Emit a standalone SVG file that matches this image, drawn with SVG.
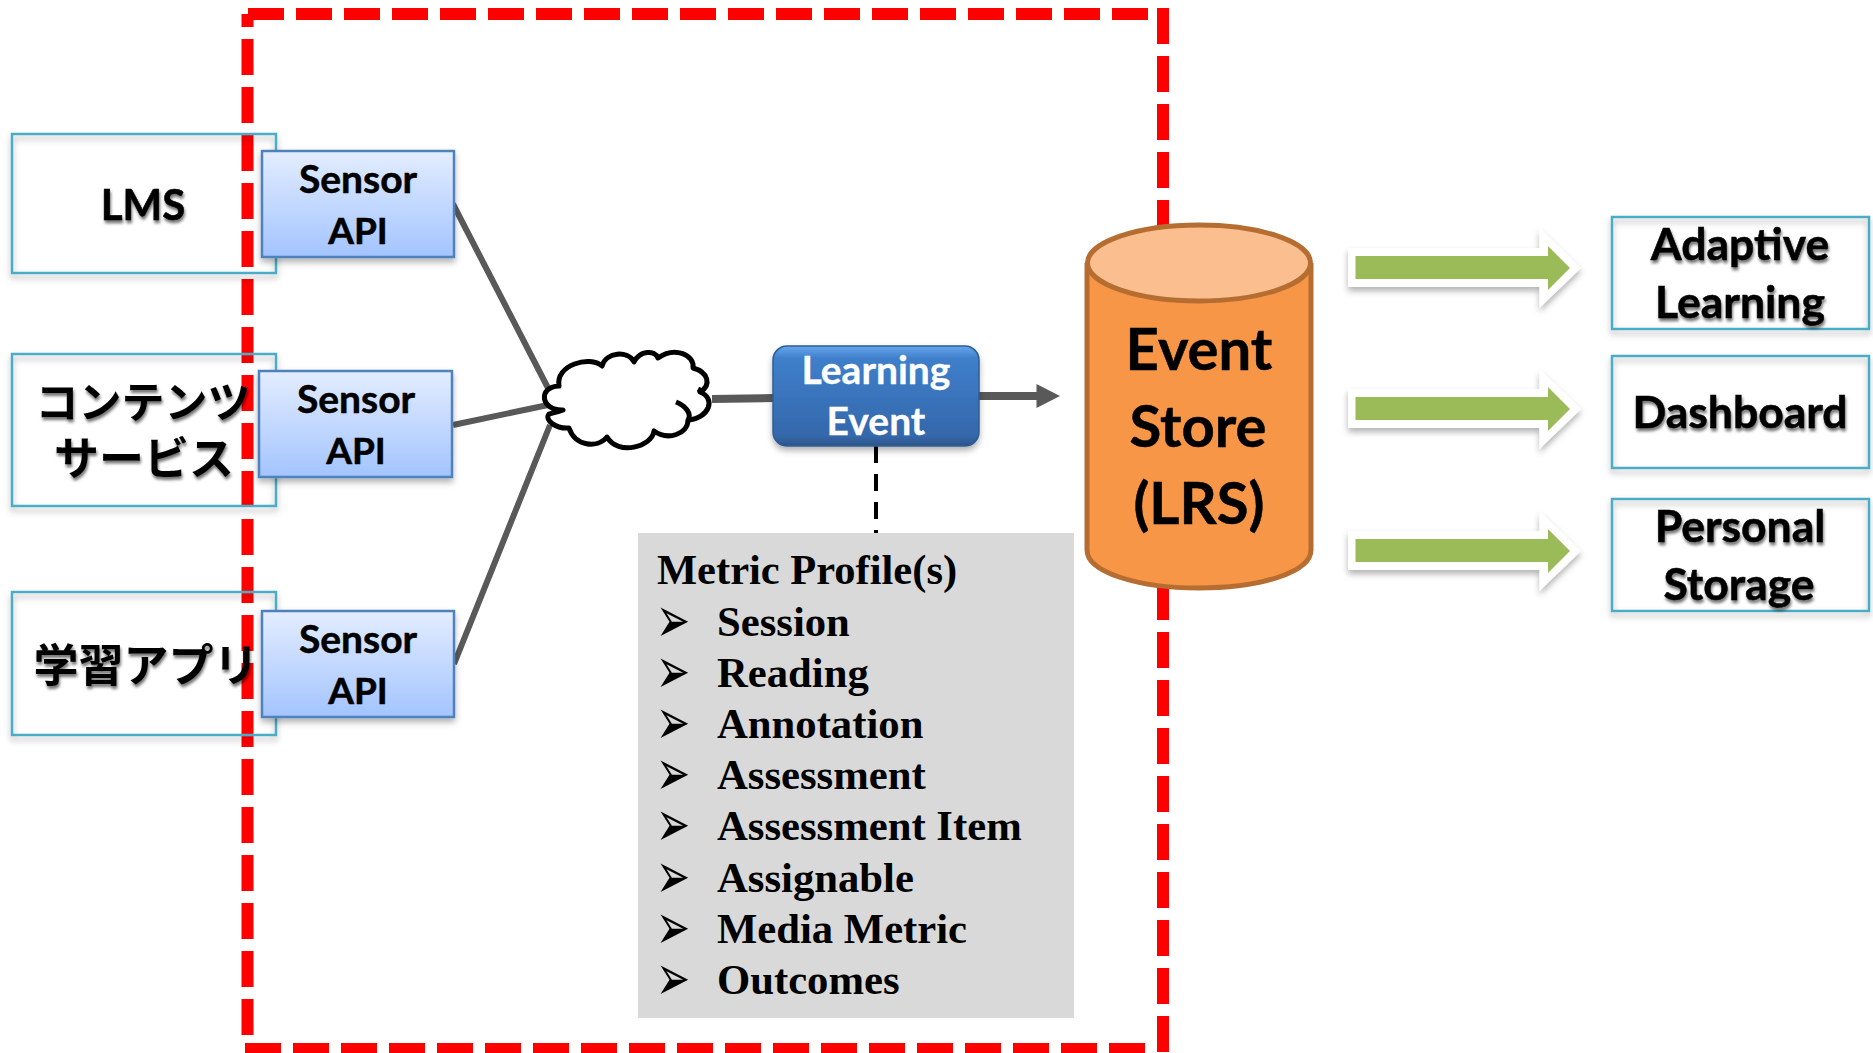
<svg xmlns="http://www.w3.org/2000/svg" xmlns:xlink="http://www.w3.org/1999/xlink" width="1873" height="1053" viewBox="0 0 1873 1053">
<style>
.c{font-family:"Lato","Open Sans","Liberation Sans",sans-serif;font-weight:700;fill:#000;text-anchor:middle;stroke:#000;stroke-width:.5}
.w{fill:#fff;stroke:#fff;stroke-width:.3}
.j{font-family:"Noto Sans CJK JP",sans-serif;font-weight:700;fill:#000;text-anchor:middle}
.m{font-family:"Liberation Serif",serif;font-weight:700;fill:#000}
.b{font-family:"DejaVu Sans",sans-serif;fill:#000;font-size:34px}
.src{fill:none;stroke:#4bacc6;stroke-width:2.5}
.sen{fill:url(#sg);stroke:#4f81bd;stroke-width:2.5}
.wa{fill:#fff}
.ga{fill:#9bbb59}
.ln{stroke:#595959;fill:none}
.red{fill:none;stroke:#f00;stroke-width:12;stroke-dasharray:36 12}
</style>
<defs>
<linearGradient id="sg" x1="0" y1="0" x2="0" y2="1"><stop offset="0" stop-color="#e3edff"/><stop offset="1" stop-color="#a3c4ff"/></linearGradient>
<linearGradient id="lg" x1="0" y1="0" x2="0" y2="1"><stop offset="0" stop-color="#66a8ee"/><stop offset=".12" stop-color="#3f7fcb"/><stop offset=".9" stop-color="#3468ab"/><stop offset="1" stop-color="#2c5586"/></linearGradient>
<filter id="ts" x="-20%" y="-20%" width="140%" height="150%"><feDropShadow dx="1" dy="3" stdDeviation="1.6" flood-color="#000" flood-opacity=".55"/></filter>
<filter id="bs" x="-10%" y="-10%" width="120%" height="125%"><feDropShadow dx="0" dy="4" stdDeviation="3" flood-color="#000" flood-opacity=".3"/></filter>
<g id="arr"><path class="wa" filter="url(#bs)" d="M1348 248H1539.500V228L1581 268L1539.500 308V287H1348Z"/><path class="ga" d="M1355.500 256H1548V246L1570 268L1548 290V279H1355.500Z"/></g>
</defs>
<rect width="1873" height="1053" fill="#fff"/>
<g id="frame">
<path class="red" stroke-dashoffset="23" d="M247.500 14V1043"/>
<path class="red" d="M248 14H1148"/>
<path class="red" d="M1163 8V1053"/>
<path class="red" d="M245 1049H1146"/>
</g>
<g id="connectors">
<path class="ln" stroke-width="6" d="M453 204L548 388M453 425L548 405M454 664L550 425"/>
<path class="ln" stroke-width="8" d="M712 399L773 398M979 396H1038"/>
<path fill="#595959" d="M1036.500 384L1060 396L1036.500 408Z"/>
<path fill="none" stroke="#000" stroke-width="4" stroke-dasharray="17 11" d="M876 446V533"/>
</g>
<g id="lms"><rect class="src" x="12" y="134" width="264" height="139" filter="url(#bs)"/><text class="c" font-size="42" x="143" y="220" filter="url(#ts)">LMS</text></g>
<g id="content"><rect class="src" x="12" y="354" width="264" height="152" filter="url(#bs)"/><text class="j" filter="url(#ts)"><tspan font-size="43" x="143" y="418">コンテンツ</tspan><tspan font-size="45" x="144" y="475">サービス</tspan></text></g>
<g id="app"><rect class="src" x="12" y="592" width="264" height="143" filter="url(#bs)"/><text class="j" font-size="45" x="146" y="682" filter="url(#ts)">学習アプリ</text></g>
<g id="sensor1"><rect class="sen" x="262" y="151" width="192" height="106" filter="url(#bs)"/><text class="c" font-size="39"><tspan x="358" y="193">Sensor</tspan><tspan font-size="37" x="358" y="244">API</tspan></text></g>
<g id="sensor2"><rect class="sen" x="259" y="371" width="193" height="106" filter="url(#bs)"/><text class="c" font-size="39"><tspan x="356" y="413">Sensor</tspan><tspan font-size="37" x="356" y="464">API</tspan></text></g>
<g id="sensor3"><rect class="sen" x="262" y="611" width="192" height="106" filter="url(#bs)"/><text class="c" font-size="39"><tspan x="358" y="653">Sensor</tspan><tspan font-size="37" x="358" y="704">API</tspan></text></g>
<g id="cloud"><path fill="#fff" stroke="#000" stroke-width="5" stroke-linejoin="round" d="M563 410C541 411 537 387 559 386C555 365 590 355 602 366C606 352 628 350 634 362C640 350 655 350 658 358C675 346 695 355 693 368C708 372 712 385 700 392C716 398 710 418 688 420C688 434 668 441 654 431C652 447 618 456 607 437C597 449 575 446 569 428C556 429 544 420 549 414C552 413 558 412 563 410Z"/><path fill="none" stroke="#000" stroke-width="5" d="M676 402C686 406 692 414 688 420M702 391L698 389"/></g>
<g id="learning-event"><rect x="773" y="346" width="206" height="100" rx="14" fill="url(#lg)" stroke="#2f5d94" stroke-width="1.500" filter="url(#bs)"/><text class="c w" font-size="39" style="fill:#fff;stroke:#fff"><tspan x="876" y="384">Learning</tspan><tspan x="876" y="435">Event</tspan></text></g>
<g id="metric-profiles"><rect x="638" y="533" width="436" height="485" fill="#d9d9d9"/>
<text class="m" font-size="42.500" x="657" y="584">Metric Profile(s)</text>
<g font-size="42.700" class="m">
<text x="717" y="636">Session</text><text x="717" y="687">Reading</text><text x="717" y="738">Annotation</text><text x="717" y="789">Assessment</text><text x="717" y="840">Assessment Item</text><text x="717" y="892">Assignable</text><text x="717" y="943">Media Metric</text><text x="717" y="994">Outcomes</text>
</g>
<g class="b">
<text transform="translate(656 642) scale(1.200 1.900)">➢</text><text transform="translate(656 693) scale(1.200 1.900)">➢</text><text transform="translate(656 744) scale(1.200 1.900)">➢</text><text transform="translate(656 795) scale(1.200 1.900)">➢</text><text transform="translate(656 846) scale(1.200 1.900)">➢</text><text transform="translate(656 898) scale(1.200 1.900)">➢</text><text transform="translate(656 949) scale(1.200 1.900)">➢</text><text transform="translate(656 1000) scale(1.200 1.900)">➢</text>
</g></g>
<g id="event-store"><path fill="#f79646" stroke="#b66d31" stroke-width="5" d="M1087 263V550C1087 572 1137 588 1199 588S1311 572 1311 550V263"/><ellipse cx="1199" cy="263" rx="111.500" ry="38" fill="#fbbf8f" stroke="#b66d31" stroke-width="5"/>
<text class="c" font-size="58"><tspan x="1199" y="370">Event</tspan><tspan x="1198" y="447">Store</tspan><tspan x="1199" y="524">(LRS)</tspan></text></g>
<g id="arrows"><use xlink:href="#arr"/><use xlink:href="#arr" y="141"/><use xlink:href="#arr" y="283"/></g>
<g id="adaptive"><rect class="src" x="1612" y="217" width="257" height="112" filter="url(#bs)"/><text class="c" font-size="44.500" filter="url(#ts)"><tspan x="1740" y="260">Adaptive</tspan><tspan x="1740" y="318">Learning</tspan></text></g>
<g id="dashboard"><rect class="src" x="1612" y="356" width="257" height="112" filter="url(#bs)"/><text class="c" font-size="44.500" x="1740" y="428" filter="url(#ts)">Dashboard</text></g>
<g id="personal"><rect class="src" x="1612" y="499" width="257" height="112" filter="url(#bs)"/><text class="c" font-size="44.500" filter="url(#ts)"><tspan x="1740" y="542">Personal</tspan><tspan x="1739" y="600">Storage</tspan></text></g>
</svg>
